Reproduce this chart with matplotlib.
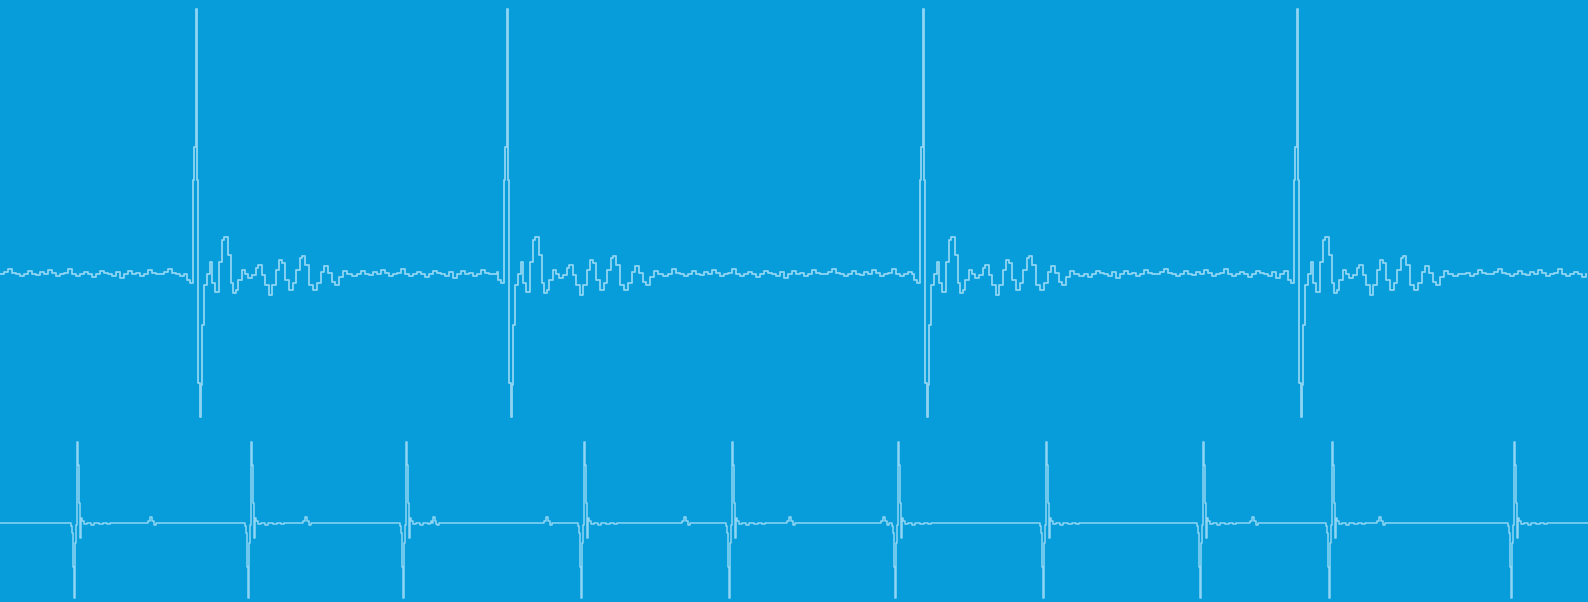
import matplotlib
matplotlib.use("Agg")
from matplotlib import pyplot as plt

# ---------------- data (1 unit of time = 1 sample, amplitudes in 10 uV) ----------------

# upper lead: times of the R peaks
upper_r = [196, 507, 923, 1297]

# one upper beat (offset from R peak, amplitude)
upper_beat_dx = [-9, -6, -3, -2, 0, 1, 2, 4, 5, 6, 8, 11, 14, 16, 19, 23, 26, 28, 32, 35,
                 37, 40, 42, 46, 49, 52, 56, 60, 62, 66, 69, 73, 76, 80, 83, 86, 89, 93, 97, 100,
                 104, 106, 109, 113, 117, 121, 125, 128, 132, 136, 139, 143, 147, 151, 156, 161]
upper_beat_amp = [-6, -9, 94, 127, 265, 94, -109, -143, -111, -51, -11, 0, 12, -9, -18, 12, 34, 37, 19, -9,
                  -19, -16, -6, 4, 0, -4, -1, 6, 9, -1, -11, -21, -11, 4, 14, 11, -6, -16, -9, 4,
                  16, 18, 9, -11, -16, -9, 2, 8, 1, -8, -11, -3, 3, 0, -2, 0]

# small baseline ripple between upper beats (one value every 4 samples)
upper_ripple = [0, 2, 5, 1, 0, -2, 0, 3, 0, -1, 2, 0, 4, 1, -2, 0, 1, 5, 0, -2,
                0, 2, 0, -3, 0, 3, 1, 0, -2, 2, -4, 0, 3, 0, 1, -2, 0, 4, 1, 0]

# lower lead: times of the R peaks
lower_r = [77, 251, 406, 584, 732, 898, 1046, 1203, 1332, 1514]

lower_beat_dx = [-6, -5, -4, -3, -2, -1, 0, 1, 2, 3, 4, 5, 7, 10, 14, 17, 22, 26, 30, 33]
lower_beat_amp = [-3, -10, -44, -75, -20, -2, 81, 58, 20, -15, 5, 2, -1, 0, -2, 0, -1, 0, -1, 0]

# small P/T bumps on the lower lead
lower_bumps = [150, 305, 433, 546, 684, 789, 883, 1252, 1379]
bump_dx = [-3, -2, 0, 2, 4, 6]
bump_amp = [0, 2, 6, 2, -2, 0]

# ---------------- build the traces ----------------
WIDTH = 1588
UPPER_BASE = 328
LOWER_BASE = 79

ut, uv = [], []
k = 0
t = 0
for r in upper_r:
    while t < r + upper_beat_dx[0]:
        ut.append(t)
        uv.append(upper_ripple[k % len(upper_ripple)])
        k += 1
        t += 4
    for dx, a in zip(upper_beat_dx, upper_beat_amp):
        ut.append(r + dx)
        uv.append(a)
    t = r + upper_beat_dx[-1] + 4
while t <= WIDTH:
    ut.append(t)
    uv.append(upper_ripple[k % len(upper_ripple)])
    k += 1
    t += 4

knots = [(0, 0), (WIDTH, 0)]
for r in lower_r:
    knots += [(r + dx, a) for dx, a in zip(lower_beat_dx, lower_beat_amp)]
for b in lower_bumps:
    knots += [(b + dx, a) for dx, a in zip(bump_dx, bump_amp)]
knots.sort()
lt = [p[0] for p in knots]
lv = [p[1] for p in knots]

# ---------------- plot ----------------
BG = "#069dda"
LINE = "#8fd5f3"

fig = plt.figure(figsize=(15.88, 6.02), dpi=100)
fig.patch.set_facecolor(BG)
ax = fig.add_axes([0, 0, 1, 1])
ax.set_facecolor(BG)

ax.plot(ut, [UPPER_BASE + v for v in uv], drawstyle="steps-post", color=LINE, lw=1.3)
ax.plot(lt, [LOWER_BASE + v for v in lv], drawstyle="steps-post", color=LINE, lw=1.1)

ax.set_xlim(0, WIDTH)
ax.set_ylim(0, 602)
ax.axis("off")

fig.savefig("out.png", dpi=100, facecolor=BG)
